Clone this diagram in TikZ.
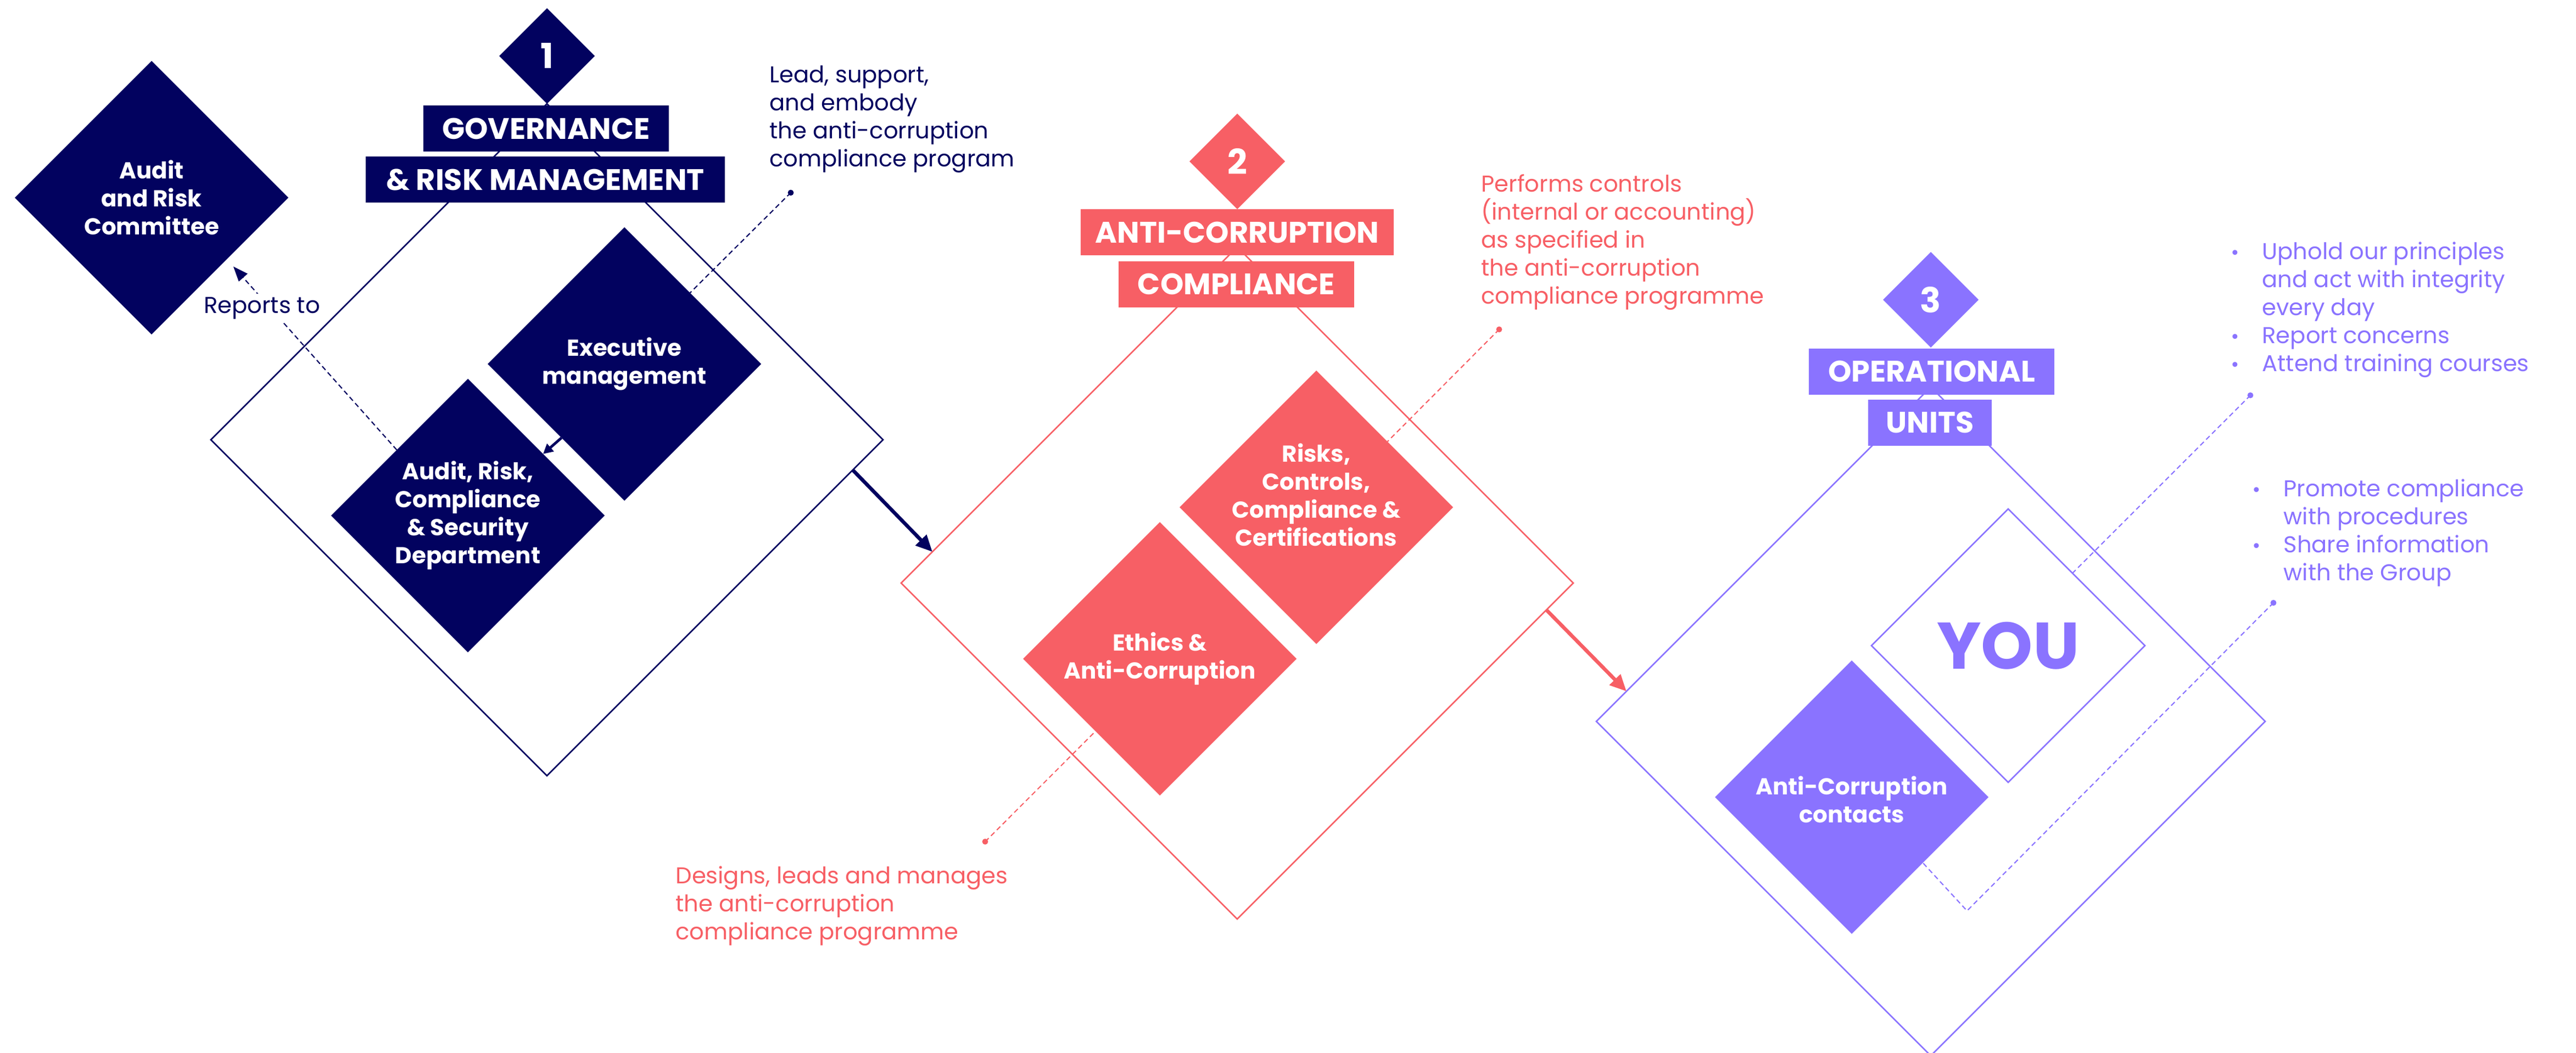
\documentclass[tikz,border=0pt]{standalone}
\usepackage{fontspec}
\setmainfont{Poppins}
\usetikzlibrary{shapes.geometric,arrows.meta,calc}
\definecolor{navy}{RGB}{2,2,95}
\definecolor{coral}{RGB}{247,95,101}
\definecolor{lilac}{RGB}{138,115,255}
\newcommand\mybullet{\llap{\raisebox{2.3pt}{\fontsize{7}{7}\selectfont$\bullet$}\hspace{14.5pt}}}
\begin{document}
\begin{tikzpicture}[x=1pt,y=-1pt,
  dia/.style={diamond,aspect=1,inner sep=0pt,outer sep=0pt,minimum size=#1},
  outl/.style={draw=#1,line width=0.9pt},
  lab/.style={inner sep=0pt,outer sep=0pt,font=\bfseries\fontsize{14}{17}\selectfont,text=white,align=center},
  hbox/.style={fill=#1,inner sep=0pt,outer sep=0pt,minimum height=28pt,text=white,font=\bfseries\fontsize{18}{18}\selectfont},
  numtxt/.style={text=white,font=\bfseries\fontsize{21}{21}\selectfont,inner sep=0pt},
  note/.style={anchor=west,align=left,inner sep=0pt,font=\fontsize{13.9}{17}\selectfont,text=#1},
  dash line/.style={draw=#1,line width=0.7pt,dash pattern=on 3pt off 2pt},
  flow/.style={draw=#1,line width=2.2pt,-{Triangle[length=10pt,width=9pt]}},
  dotmark/.style={fill=#1}
]
\useasboundingbox (0,0) rectangle (1563.67,639.33);

% ---------------- diagram 1
\node[dia=408pt,outl=navy] (big1) at (332,267) {};
\node[dia=166pt,fill=navy] (exec) at (379,221) {};
\node[dia=166pt,fill=navy] (arc) at (284,313) {};
\node[dia=166pt,fill=navy] (acom) at (92,120) {};
\node[dia=58pt,fill=navy] (num1) at (332,34) {};
\node[hbox=navy,minimum width=149pt] (gov) at (331.5,78) {GOVERNANCE};
\node[hbox=navy,minimum width=218pt] (grm) at (331,109) {\&~RISK MANAGEMENT};
\node[numtxt] (num1t) at (num1) {1};
\node[lab] (acomT) at (acom) {Audit\\and Risk\\Committee};
\node[lab] (execT) at (exec) {Executive\\management};
\node[lab] (arcT) at (arc) {Audit, Risk,\\Compliance\\\&~Security\\Department};
\coordinate (leadDot) at (480,117);
\node[note=navy] (leadT) at (467,72.5) {Lead, support,\\and embody\\the anti-corruption\\compliance program};
\draw[dash line=navy] (leadDot) -- ($(exec.north)!0.48!(exec.east)$);
\fill[dotmark=navy] (leadDot) circle[radius=1.8pt];
\draw[dash line=navy,-{Triangle[length=9pt,width=7pt]},shorten >=6pt] ($(arc.west)!0.48!(arc.north)$) -- ($(acom.east)!0.45!(acom.south)$);
\node[fill=white,inner sep=2pt,text=navy,font=\fontsize{13.9}{17}\selectfont] (rep) at (159,187) {Reports to};
\draw[draw=navy,line width=1.6pt,-{Triangle[length=6pt,width=6pt]}] ($(exec.west)!0.54!(exec.south)$) -- ($(arc.north)!0.55!(arc.east)$);

% ---------------- diagram 2
\node[dia=408pt,outl=coral] (big2) at (751,354) {};
\node[dia=166pt,fill=coral] (risk) at (799,308) {};
\node[dia=166pt,fill=coral] (eth) at (704,400) {};
\node[dia=58pt,fill=coral] (num2) at (751,98) {};
\node[hbox=coral,minimum width=190pt] (acb) at (751,141) {ANTI-CORRUPTION};
\node[hbox=coral,minimum width=143pt] (ccb) at (750.5,172.5) {COMPLIANCE};
\node[numtxt] (num2t) at (num2) {2};
\node[lab] (riskT) at (799,300.5) {Risks,\\Controls,\\Compliance \&\\Certifications};
\node[lab] (ethT) at (eth) {Ethics \&\\Anti-Corruption};
\coordinate (perfDot) at (910,200);
\coordinate (desDot) at (598,511);
\node[note=coral] (perfT) at (899,147) {Performs controls\\(internal or accounting)\\as specified in\\the anti-corruption\\compliance programme};
\node[note=coral] (desT) at (410,550) {Designs, leads and manages\\the anti-corruption\\compliance programme};
\draw[dash line=coral] (perfDot) -- ($(risk.north)!0.52!(risk.east)$);
\fill[dotmark=coral] (perfDot) circle[radius=1.8pt];
\draw[dash line=coral] (desDot) -- ($(eth.west)!0.53!(eth.south)$);
\fill[dotmark=coral] (desDot) circle[radius=1.8pt];

\draw[flow=navy] ($(big1.east)!0.09!(big1.south)$) -- ($(big2.west)!0.093!(big2.north)$);

% ---------------- diagram 3
\node[dia=406pt,outl=lilac] (big3) at (1172,438) {};
\node[dia=166pt,outl=lilac] (you) at (1219,392) {};
\node[dia=166pt,fill=lilac] (cont) at (1124,484) {};
\node[dia=58pt,fill=lilac] (num3) at (1172,182) {};
\node[hbox=lilac,minimum width=149pt] (opb) at (1172.5,225.5) {OPERATIONAL};
\node[hbox=lilac,minimum width=75pt] (unb) at (1171.5,256.5) {UNITS};
\node[numtxt] (num3t) at (num3) {3};
\node[text=lilac,font=\bfseries\fontsize{40}{40}\selectfont,inner sep=0pt] (youT) at (you) {YOU};
\node[lab] (contT) at (1124,485.5) {Anti-Corruption\\contacts};
\node[note=lilac] (bul1) at (1373,188) {\mybullet Uphold our principles\\and act with integrity\\every day\\\mybullet Report concerns\\\mybullet Attend training courses};
\node[note=lilac] (bul2) at (1386,323.5) {\mybullet Promote compliance\\with procedures\\\mybullet Share information\\with the Group};
\coordinate (upDot) at (1366,240);
\coordinate (loDot) at (1380,366);
\coordinate (vTip) at (1194,553);
\draw[dash line=lilac] (upDot) -- ($(you.north)!0.47!(you.east)$);
\fill[dotmark=lilac] (upDot) circle[radius=1.8pt];
\draw[dash line=lilac] (loDot) -- (vTip) -- ($(cont.east)!0.48!(cont.south)$);
\fill[dotmark=lilac] (loDot) circle[radius=1.8pt];

\draw[flow=coral] ($(big2.east)!0.08!(big2.south)$) -- ($(big3.west)!0.09!(big3.north)$);
\end{tikzpicture}
\end{document}
